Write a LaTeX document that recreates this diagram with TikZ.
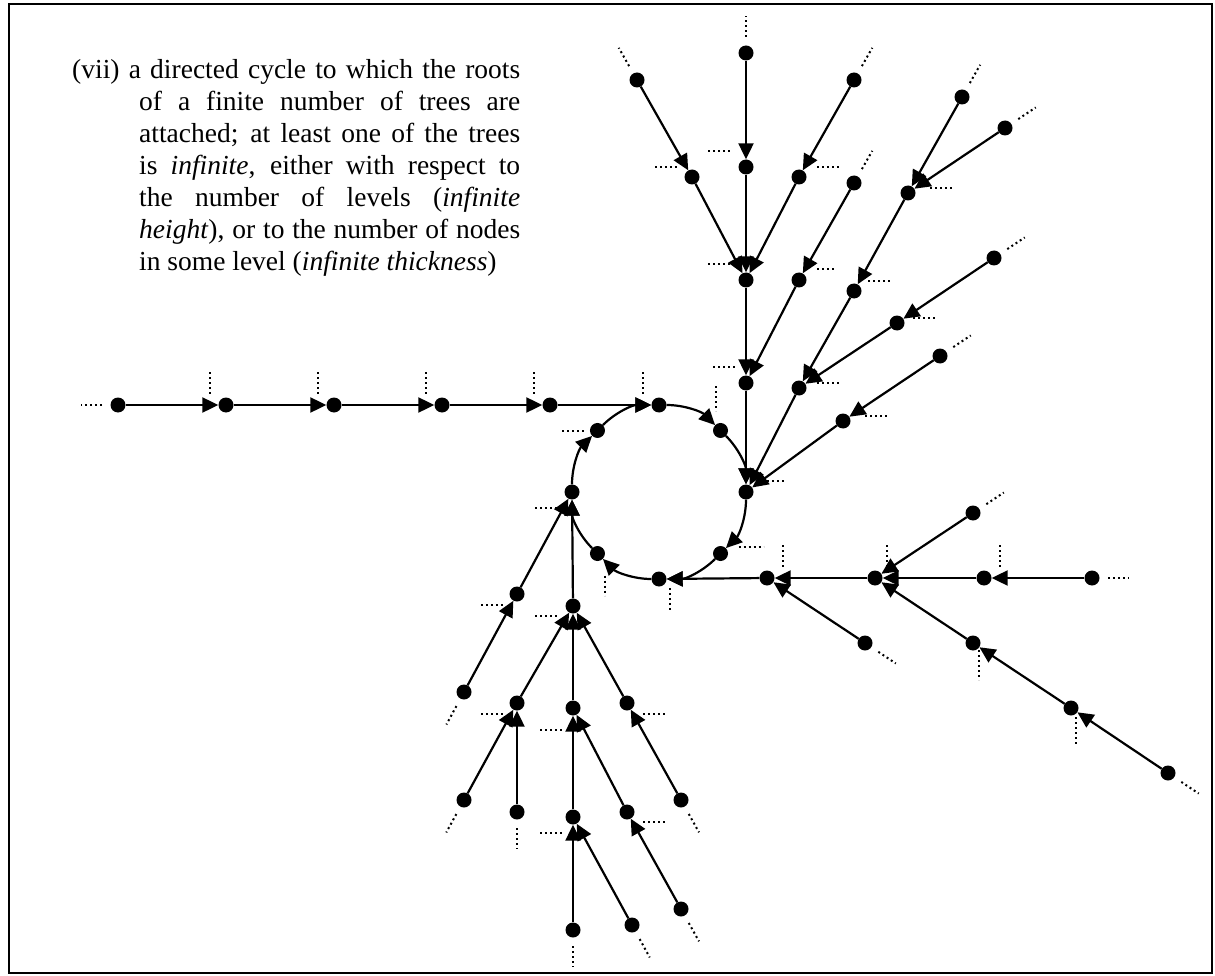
\documentclass[tikz,border=0pt]{standalone}
\usepackage{fontspec}
\setmainfont{Liberation Serif}
\usetikzlibrary{arrows.meta,calc}
\tikzset{
  dot/.style={circle,fill=black,inner sep=0pt,minimum size=15pt},
  edge/.style={line width=2.2pt,-{Triangle[length=16pt,width=15pt]}},
  stub/.style={line width=2pt,dash pattern=on 2pt off 3pt},
  frame/.style={line width=2.5pt}
}
\newcommand\leafstub[2]{\draw[stub] ($(#1)!16pt!180:(#2)$) -- ($(#1)!37pt!180:(#2)$);}
\begin{document}
\begin{tikzpicture}[x=1pt,y=1pt]
\useasboundingbox (0,0) rectangle (1215,-976);
\draw[frame] (9,-4) rectangle (1212,-973);

% text
\node[anchor=base west,inner sep=0pt] (txt) at (72,-79) {\parbox[t]{448pt}{\fontsize{27.5pt}{32pt}\selectfont\noindent\hangindent=67pt\hangafter=1
(vii) a directed cycle to which the roots\linebreak
of a finite number of trees are\linebreak
attached; at least one of the trees\linebreak
is \textit{infinite}, either with respect to\linebreak
the number of levels (\textit{infinite\/}\linebreak
\textit{height}), or to the number of nodes\linebreak
in some level (\textit{infinite thickness})}};

% cycle
\coordinate (ctr) at (659,-492);
\node[dot] (k0) at ($(ctr)+(90:87)$) {};
\node[dot] (k1) at ($(ctr)+(45:87)$) {};
\node[dot] (k2) at ($(ctr)+(0:87)$) {};
\node[dot] (k3) at ($(ctr)+(-45:87)$) {};
\node[dot] (k4) at ($(ctr)+(-90:87)$) {};
\node[dot] (k5) at ($(ctr)+(-135:87)$) {};
\node[dot] (k6) at ($(ctr)+(180:87)$) {};
\node[dot] (k7) at ($(ctr)+(135:87)$) {};
\foreach \a/\b in {k0/k1,k1/k2,k2/k3,k3/k4,k4/k5,k5/k6,k6/k7,k7/k0}
  \draw[edge] (\a) to[bend left=22.5,looseness=0.9] (\b);

% left chain
\node[dot] (c1) at (118,-405) {};
\node[dot] (c2) at (226,-405) {};
\node[dot] (c3) at (334,-405) {};
\node[dot] (c4) at (442,-405) {};
\node[dot] (c5) at (550,-405) {};
\draw[edge] (c1) -- (c2);
\draw[edge] (c2) -- (c3);
\draw[edge] (c3) -- (c4);
\draw[edge] (c4) -- (c5);
\draw[edge] (c5) -- (k0);

% top tree
\node[dot] (t1) at (746,-53) {};
\node[dot] (t2) at (746,-167) {};
\node[dot] (t3) at (637,-80) {};
\node[dot] (t4) at (692,-177) {};
\node[dot] (t5) at (854,-80) {};
\node[dot] (t6) at (799,-177) {};
\node[dot] (t7) at (746,-280) {};
\node[dot] (t8) at (854,-183) {};
\node[dot] (t9) at (799,-280) {};
\node[dot] (t10) at (746,-383) {};
\node[dot] (t11) at (962,-97) {};
\node[dot] (t12) at (1005,-128) {};
\node[dot] (t13) at (908,-193) {};
\node[dot] (t14) at (854,-291) {};
\node[dot] (t15) at (994,-258) {};
\node[dot] (t16) at (897,-323) {};
\node[dot] (t17) at (799,-388) {};
\node[dot] (t18) at (940,-356) {};
\node[dot] (t19) at (843,-421) {};
\foreach \a/\b in {t1/t2,t2/t7,t3/t4,t4/t7,t5/t6,t6/t7,t7/t10,t8/t9,t9/t10,t10/k2,
  t11/t13,t12/t13,t13/t14,t14/t17,t15/t16,t16/t17,t17/k2,t18/t19,t19/k2}
  \draw[edge] (\a) -- (\b);

% bottom-right tree
\node[dot] (b1) at (767,-578) {};
\node[dot] (b2) at (875,-578) {};
\node[dot] (b3) at (984,-578) {};
\node[dot] (b4) at (1092,-578) {};
\node[dot] (b5) at (973,-513) {};
\node[dot] (b6) at (865,-643) {};
\node[dot] (b7) at (973,-643) {};
\node[dot] (b8) at (1071,-708) {};
\node[dot] (b9) at (1168,-773) {};
\foreach \a/\b in {b1/k4,b2/b1,b3/b2,b4/b3,b5/b2,b6/b1,b7/b2,b8/b7,b9/b8}
  \draw[edge] (\a) -- (\b);

% bottom-left tree
\node[dot] (l1) at (517,-594) {};
\node[dot] (l2) at (573,-606) {};
\node[dot] (l3) at (464,-692) {};
\node[dot] (l4) at (517,-703) {};
\node[dot] (l5) at (573,-708) {};
\node[dot] (l6) at (627,-703) {};
\node[dot] (l7) at (464,-800) {};
\node[dot] (l8) at (517,-812) {};
\node[dot] (l9) at (573,-817) {};
\node[dot] (l10) at (627,-812) {};
\node[dot] (l11) at (681,-800) {};
\node[dot] (l12) at (681,-909) {};
\node[dot] (l13) at (632,-925) {};
\node[dot] (l14) at (573,-930) {};
\foreach \a/\b in {l1/k6,l2/k6,l3/l1,l4/l2,l5/l2,l6/l2,l7/l4,l8/l4,l9/l5,l10/l5,
  l11/l6,l12/l10,l13/l9,l14/l9}
  \draw[edge] (\a) -- (\b);

% leaf stubs
\leafstub{c1}{c2}
\leafstub{t1}{t2}
\leafstub{t3}{t4}
\leafstub{t5}{t6}
\leafstub{t8}{t9}
\leafstub{t11}{t13}
\leafstub{t12}{t13}
\leafstub{t15}{t16}
\leafstub{t18}{t19}
\leafstub{b4}{b3}
\leafstub{b5}{b2}
\leafstub{b6}{b1}
\leafstub{b9}{b8}
\leafstub{l3}{l1}
\leafstub{l7}{l4}
\leafstub{l8}{l4}
\leafstub{l11}{l6}
\leafstub{l12}{l10}
\leafstub{l13}{l9}
\leafstub{l14}{l9}

% inner stubs
\foreach \n in {c2,c3,c4,c5,k0}
  \draw[stub] ($(\n)+(-16,33)$) -- ($(\n)+(-16,10)$);
\draw[stub] ($(k1)+(-5,44)$) -- ($(k1)+(-5,19)$);
\draw[stub] ($(k2)+(16,11)$) -- ($(k2)+(40,11)$);
\draw[stub] ($(k3)+(18,7)$) -- ($(k3)+(43,7)$);
\draw[stub] ($(k4)+(11,-9)$) -- ($(k4)+(11,-33)$);
\draw[stub] ($(k5)+(8,-22)$) -- ($(k5)+(8,-42)$);
\draw[stub] ($(k6)+(-37,-16)$) -- ($(k6)+(-14,-16)$);
\draw[stub] ($(k7)+(-35,-1)$) -- ($(k7)+(-13,-1)$);

\draw[stub] ($(t2)+(-38,16)$) -- ($(t2)+(-15,16)$);
\draw[stub] ($(t4)+(-37,10)$) -- ($(t4)+(-14,10)$);
\draw[stub] ($(t6)+(18,10)$) -- ($(t6)+(41,10)$);
\draw[stub] ($(t7)+(-38,16)$) -- ($(t7)+(-14,16)$);
\draw[stub] ($(t9)+(18,11)$) -- ($(t9)+(37,11)$);
\draw[stub] ($(t10)+(-33,16)$) -- ($(t10)+(-9,16)$);
\draw[stub] ($(t13)+(22,5)$) -- ($(t13)+(44,5)$);
\draw[stub] ($(t14)+(14,10)$) -- ($(t14)+(36,10)$);
\draw[stub] ($(t16)+(16,5)$) -- ($(t16)+(40,5)$);
\draw[stub] ($(t17)+(18,5)$) -- ($(t17)+(41,5)$);
\draw[stub] ($(t19)+(22,5)$) -- ($(t19)+(44,5)$);

\draw[stub] ($(b1)+(16,33)$) -- ($(b1)+(16,11)$);
\draw[stub] ($(b2)+(12,33)$) -- ($(b2)+(12,11)$);
\draw[stub] ($(b3)+(16,33)$) -- ($(b3)+(16,11)$);
\draw[stub] ($(b7)+(6,-7)$) -- ($(b7)+(6,-37)$);
\draw[stub] ($(b8)+(5,-9)$) -- ($(b8)+(5,-37)$);

\draw[stub] ($(l1)+(-36,-11)$) -- ($(l1)+(-12,-11)$);
\draw[stub] ($(l2)+(-38,-10)$) -- ($(l2)+(-15,-10)$);
\draw[stub] ($(l4)+(-36,-11)$) -- ($(l4)+(-12,-11)$);
\draw[stub] ($(l5)+(-33,-22)$) -- ($(l5)+(-10,-22)$);
\draw[stub] ($(l6)+(16,-11)$) -- ($(l6)+(40,-11)$);
\draw[stub] ($(l9)+(-33,-16)$) -- ($(l9)+(-10,-16)$);
\draw[stub] ($(l10)+(16,-10)$) -- ($(l10)+(40,-10)$);
\end{tikzpicture}
\end{document}
